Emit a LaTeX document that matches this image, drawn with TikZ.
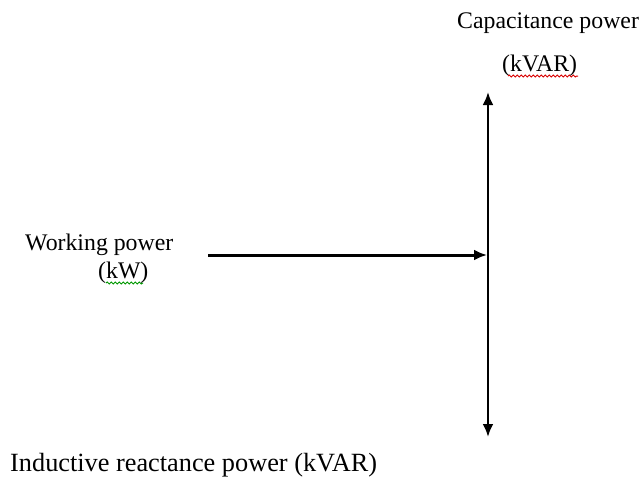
\documentclass[tikz,border=0pt]{standalone}
\usepackage{fontspec}
\setmainfont{Liberation Serif}
\usetikzlibrary{arrows.meta,decorations.pathmorphing}
\begin{document}
\begin{tikzpicture}[x=1pt,y=-1pt,
  lbl/.style={inner sep=0pt,anchor=base west,font=\fontsize{23.8}{28}\selectfont},
  axis/.style={line width=2.4pt,-{Latex[length=13pt,width=11pt]}},
  spell/.style={line width=1pt,decorate,decoration={snake,segment length=4pt,amplitude=1pt}}]
\useasboundingbox[fill=white] (0,0) rectangle (641,485);
\node[lbl] (cap) at (457,28) {Capacitance power};
\node[lbl] (capu) at (502,71) {(kVAR)};
\node[lbl] (work) at (25,250) {Working power};
\node[lbl] (worku) at (98,278) {(kW)};
\node[lbl,font=\fontsize{26.3}{31}\selectfont] (ind) at (10,471) {Inductive reactance power (kVAR)};
\coordinate (vtop) at (488,92);
\coordinate (vbot) at (488,437);
\coordinate (vmid) at (488,255);
\coordinate (hstart) at (208,255);
\draw[axis] (vmid) -- (vtop);
\draw[axis] (vmid) -- (vbot);
\draw[axis,line width=3pt] (hstart) -- ([xshift=-1pt]vmid);
\coordinate (r1) at (508,76);
\coordinate (r2) at (578,76);
\coordinate (g1) at (106,283);
\coordinate (g2) at (143,283);
\draw[spell,red!85!black] (r1) -- (r2);
\draw[spell,green!60!black] (g1) -- (g2);
\end{tikzpicture}
\end{document}
